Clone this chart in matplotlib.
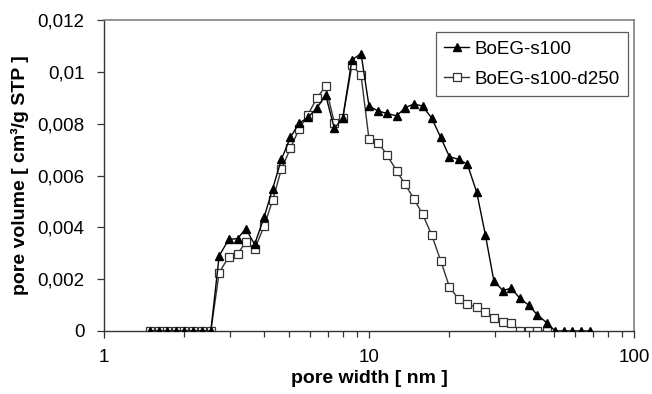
import matplotlib
matplotlib.use("Agg")
import matplotlib.pyplot as plt
from matplotlib.ticker import LogLocator, NullFormatter

plt.rcParams['font.family'] = ['Liberation Sans', 'DejaVu Sans']

# pore widths [nm], shared by both samples
width = [1.49, 1.61, 1.73, 1.87, 2.01, 2.17, 2.34, 2.53, 2.72, 2.96,
         3.19, 3.43, 3.70, 4.02, 4.33, 4.67, 5.05, 5.44, 5.87, 6.35,
         6.86, 7.40, 7.96, 8.62, 9.33, 10.0, 10.84, 11.66, 12.72, 13.68,
         14.78, 15.94, 17.25, 18.65, 20.1, 21.8, 23.5, 25.5, 27.5, 29.6,
         32.0, 34.4, 37.1, 40.0, 43.2, 46.8, 50.4, 54.3, 58.6, 63.2, 68.2]

# BoEG-s100
vol_s100 = [0, 0, 0, 0, 0, 0, 0, 0, 0.0029, 0.00354,
            0.00356, 0.00395, 0.00334, 0.00439, 0.00549, 0.00662, 0.00747, 0.00801, 0.00824, 0.00859,
            0.00911, 0.00782, 0.00821, 0.01046, 0.01071, 0.00868, 0.00849, 0.0084, 0.0083, 0.00862,
            0.00876, 0.00868, 0.00821, 0.00747, 0.00673, 0.00662, 0.00644, 0.00535, 0.0037, 0.00193,
            0.00156, 0.00165, 0.00126, 0.001, 0.00062, 0.00032, 0, 0, 0, 0, 0]

# BoEG-s100-d250 (ends at 46.8 nm)
vol_d250 = [0, 0, 0, 0, 0, 0, 0, 0, 0.00225, 0.00287,
            0.00297, 0.00343, 0.00315, 0.00405, 0.00505, 0.00624, 0.00705, 0.00778, 0.00833, 0.00898,
            0.00945, 0.00804, 0.00821, 0.01025, 0.00988, 0.0074, 0.00727, 0.00681, 0.00618, 0.00566,
            0.0051, 0.0045, 0.0037, 0.00271, 0.00171, 0.00122, 0.00104, 0.00091, 0.00075, 0.00049,
            0.00036, 0.0003, 0, 0, 0, 0]

yticks = [0, 0.002, 0.004, 0.006, 0.008, 0.01, 0.012]
ytick_labels = ["0", "0,002", "0,004", "0,006", "0,008", "0,01", "0,012"]

fig = plt.figure(figsize=(6.52, 3.94), dpi=100)
ax = fig.add_axes([0.1595, 0.160, 0.8129, 0.789])

ax.plot(width[:len(vol_d250)], vol_d250, color="#333333", lw=1.0, marker="s",
        ms=5.5, mfc="white", mec="#333333", mew=0.9, zorder=2,
        label="BoEG-s100-d250")
ax.plot(width, vol_s100, color="black", lw=1.0, marker="^", ms=6,
        mfc="black", mec="black", zorder=3, label="BoEG-s100")

ax.set_xscale("log")
ax.set_xlim(1, 100)
ax.set_ylim(0, 0.012)
ax.set_yticks(yticks)
ax.set_yticklabels(ytick_labels)
ax.set_xticks([1, 10, 100])
ax.set_xticklabels(["1", "10", "100"])
ax.xaxis.set_minor_locator(LogLocator(base=10, subs=range(2, 10)))
ax.xaxis.set_minor_formatter(NullFormatter())

ax.tick_params(axis="both", which="major", direction="out", length=5,
               width=0.9, color="#333333", labelsize=13.5)
ax.tick_params(axis="y", pad=9)
ax.tick_params(axis="x", pad=8)
ax.tick_params(axis="x", which="minor", direction="out", length=4,
               width=0.9, color="#333333")

for s in ["left", "bottom"]:
    ax.spines[s].set_color("#333333")
    ax.spines[s].set_linewidth(1.0)
for s in ["top", "right"]:
    ax.spines[s].set_color("#808080")
    ax.spines[s].set_linewidth(1.2)

ax.set_xlabel("pore width [ nm ]", fontsize=14, fontweight="bold", labelpad=3)
ax.set_ylabel("pore volume [ cm³/g STP ]", fontsize=14, fontweight="bold",
              labelpad=6)

handles, labels = ax.get_legend_handles_labels()
leg = ax.legend(handles[::-1], labels[::-1], loc="upper right",
                bbox_to_anchor=(0.989, 0.961), fontsize=13.5, frameon=True,
                fancybox=False, edgecolor="#333333", handlelength=1.3,
                handletextpad=0.3, borderpad=0.45, labelspacing=0.7,
                borderaxespad=0)
leg.get_frame().set_linewidth(0.9)

fig.savefig("out.png", dpi=100)
